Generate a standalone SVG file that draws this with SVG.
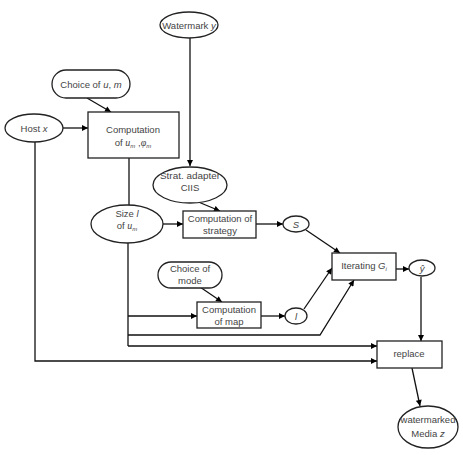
<svg xmlns="http://www.w3.org/2000/svg" width="463" height="455" viewBox="0 0 463 455">
<defs>
<marker id="ah" viewBox="0 0 10 10" refX="10" refY="5" markerWidth="7" markerHeight="6" markerUnits="userSpaceOnUse" orient="auto">
<path d="M0,0 L10,5 L0,10 z" fill="#000"/>
</marker>
<style>
.n{fill:#fff;stroke:#222;stroke-width:1.3}
.c{fill:none;stroke:#111;stroke-width:1.3}
.a{fill:none;stroke:#111;stroke-width:1.3;marker-end:url(#ah)}
text{font-family:"Liberation Sans",Arial,sans-serif;font-size:9.5px;fill:#444;text-anchor:middle}
.i{font-style:italic}
.s{font-size:6px;font-style:italic}
</style>
</defs>
<rect width="463" height="455" fill="#fff"/>
<g id="connectors">
<path class="a" d="M190,38 V166"/>
<path class="a" d="M87,98 L111,112"/>
<path class="a" d="M63,128 H88"/>
<path class="c" d="M129,158 V205"/>
<path class="a" d="M196,201 L220,211"/>
<path class="a" d="M163,224 H183"/>
<path class="a" d="M256,224 H283"/>
<path class="a" d="M306,230 L340,253"/>
<path class="c" d="M128,243 V346"/>
<path class="a" d="M128,316 H197"/>
<path class="a" d="M200,287 L222,302"/>
<path class="a" d="M261,316 H285"/>
<path class="a" d="M304,309 L332,268"/>
<path class="a" d="M128,335 H320 L354,280"/>
<path class="a" d="M128,346 H377"/>
<path class="a" d="M35,142 V361 H377"/>
<path class="a" d="M396,269 H409"/>
<path class="a" d="M421,277 V341"/>
<path class="a" d="M412,368 L420,406"/>
</g>
<g id="watermark"><ellipse class="n" cx="189" cy="25" rx="29" ry="13"/><text x="189" y="29">Watermark <tspan class="i">y</tspan></text></g>
<g id="choice-um"><rect class="n" x="52" y="70" width="78" height="28" rx="14"/><text x="91" y="88">Choice of <tspan class="i">u</tspan>, <tspan class="i">m</tspan></text></g>
<g id="host"><ellipse class="n" cx="34" cy="128" rx="29" ry="14"/><text x="34" y="132">Host <tspan class="i">x</tspan></text></g>
<g id="comp-u"><rect class="n" x="88" y="112" width="91" height="46"/><text x="133" y="133">Computation</text><text x="133" y="146">of  <tspan class="i" font-family="'Liberation Serif',serif" font-size="10">u</tspan><tspan class="s" dy="2">m</tspan><tspan dy="-2"> ,</tspan><tspan class="i" font-family="'Liberation Serif',serif" font-size="10">φ</tspan><tspan class="s" dy="2">m</tspan></text></g>
<g id="strat-adapter"><ellipse class="n" cx="190" cy="185" rx="37" ry="18"/><text x="190" y="179" textLength="60" lengthAdjust="spacingAndGlyphs">Strat. adapter</text><text x="190" y="191">CIIS</text></g>
<g id="size"><ellipse class="n" cx="127" cy="224" rx="36" ry="19"/><text x="127" y="217">Size <tspan class="i">l</tspan></text><text x="127" y="229">of  <tspan class="i" font-family="'Liberation Serif',serif" font-size="10">u</tspan><tspan class="s" dy="2">m</tspan></text></g>
<g id="comp-strategy"><rect class="n" x="183" y="211" width="73" height="27"/><text x="220" y="222">Computation of</text><text x="220" y="234">strategy</text></g>
<g id="S"><ellipse class="n" cx="296" cy="224" rx="13" ry="8"/><text class="i" x="296" y="228">S</text></g>
<g id="choice-mode"><rect class="n" x="158" y="262" width="64" height="26" rx="13"/><text x="190" y="272">Choice of</text><text x="190" y="284">mode</text></g>
<g id="comp-map"><rect class="n" x="197" y="302" width="64" height="26"/><text x="229" y="313">Computation</text><text x="229" y="325">of map</text></g>
<g id="l"><ellipse class="n" cx="296" cy="316" rx="11" ry="8"/><text class="i" x="296" y="320">l</text></g>
<g id="iterating"><rect class="n" x="332" y="253" width="64" height="27"/><text x="364" y="269">Iterating <tspan class="i">G</tspan><tspan class="s" dy="2">i</tspan></text></g>
<g id="yhat"><ellipse class="n" cx="422" cy="268" rx="13" ry="8"/><text class="i" x="422" y="272">ŷ</text></g>
<g id="replace"><rect class="n" x="377" y="341" width="65" height="27"/><text x="409" y="357">replace</text></g>
<g id="media"><ellipse class="n" cx="428" cy="427" rx="30" ry="21"/><text x="428" y="423">watermarked</text><text x="428" y="437">Media <tspan class="i">z</tspan></text></g>
</svg>
